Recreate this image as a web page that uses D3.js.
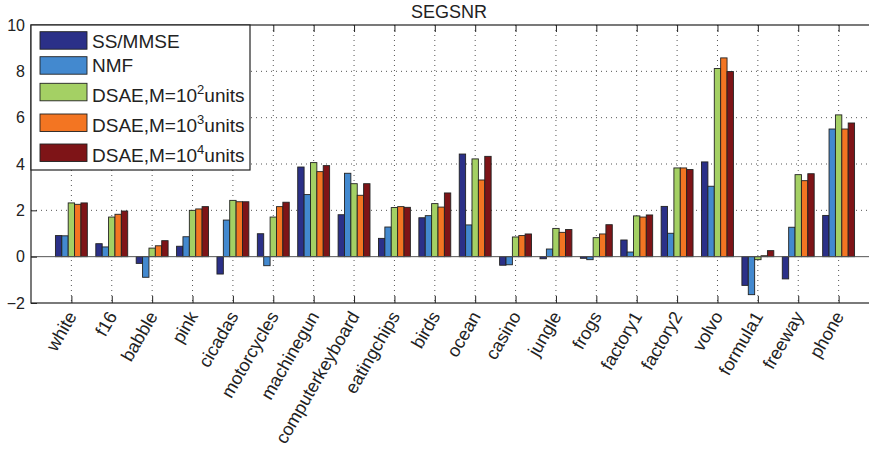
<!DOCTYPE html>
<html><head><meta charset="utf-8">
<script src="https://cdn.jsdelivr.net/npm/d3@7"></script>
<style>body{margin:0;background:#fff}svg{display:block}text{font-family:"Liberation Sans",Arial,sans-serif;fill:#222}</style>
</head><body><svg id="c" width="869" height="455"></svg>
<script>
const categories = ["white","f16","babble","pink","cicadas","motorcycles","machinegun","computerkeyboard","eatingchips","birds","ocean","casino","jungle","frogs","factory1","factory2","volvo","formula1","freeway","phone"];
const seriesNames = ["SS/MMSE","NMF","DSAE,M=10^2units","DSAE,M=10^3units","DSAE,M=10^4units"];
const ssmmse = [0.91,0.56,-0.29,0.45,-0.75,0.99,3.87,1.81,0.79,1.68,4.43,-0.37,-0.09,-0.07,0.72,2.17,4.09,-1.24,-0.96,1.78];
const nmf    = [0.90,0.42,-0.89,0.86,1.58,-0.39,2.68,3.60,1.28,1.77,1.37,-0.35,0.33,-0.13,0.20,1.01,3.04,-1.64,1.27,5.51];
const dsae2  = [2.32,1.71,0.37,2.00,2.43,1.71,4.06,3.15,2.12,2.29,4.22,0.85,1.22,0.82,1.76,3.83,8.12,-0.13,3.54,6.12];
const dsae3  = [2.26,1.83,0.47,2.06,2.37,2.16,3.67,2.65,2.16,2.14,3.31,0.91,1.05,0.98,1.71,3.83,8.58,0.04,3.28,5.51];
const dsae4  = [2.32,1.97,0.69,2.16,2.37,2.35,3.93,3.15,2.13,2.75,4.33,0.98,1.17,1.38,1.80,3.76,7.99,0.26,3.58,5.77];
const yTicks = [-2,0,2,4,6,8,10];
const colors = ["#2b3088","#4389cf","#a4d064","#f37522","#7e1417"];
const values = [ssmmse,nmf,dsae2,dsae3,dsae4];

const svg = d3.select("#c");
const L=31, R=879, T=25, B=303;
const x = d3.scaleLinear().domain([0, categories.length+1]).range([L,R]);
const y = d3.scaleLinear().domain([-2,10]).range([B,T]);
const inner = d3.scaleBand().domain(d3.range(seriesNames.length)).range([-0.395,0.395]);

// grid
const g = svg.append("g");
g.selectAll(".hg").data(yTicks.filter(t=>t>-2&&t<10&&t!==0)).join("line")
  .attr("x1",L).attr("x2",R).attr("y1",d=>y(d)).attr("y2",d=>y(d))
  .attr("stroke","#555").attr("stroke-width",1).attr("stroke-dasharray","1,4");
g.selectAll(".vg").data(categories).join("line")
  .attr("x1",(d,i)=>x(i+1)).attr("x2",(d,i)=>x(i+1)).attr("y1",T).attr("y2",B)
  .attr("stroke","#555").attr("stroke-width",1).attr("stroke-dasharray","1,4");

// bars
const bars = [];
values.forEach((arr,s)=>arr.forEach((v,i)=>bars.push({s,i,v})));
svg.append("g").selectAll("rect").data(bars).join("rect")
  .attr("x",d=>x(d.i+1+inner(d.s)))
  .attr("width",d=>x(inner.bandwidth())-x(0))
  .attr("y",d=>y(Math.max(0,d.v)))
  .attr("height",d=>Math.abs(y(d.v)-y(0)))
  .attr("fill",d=>colors[d.s]).attr("stroke","#222").attr("stroke-width",0.9);

// baseline
svg.append("line").attr("x1",L).attr("x2",R).attr("y1",y(0)).attr("y2",y(0)).attr("stroke","#555").attr("stroke-width",1);

// axes
const yAxis = d3.axisLeft(y).tickValues(yTicks).tickSize(-6).tickPadding(6).tickFormat(d=>d<0?"\u2212"+Math.abs(d):d);
const ya = svg.append("g").attr("transform",`translate(${L},0)`).call(yAxis);
ya.select(".domain").remove();
ya.selectAll("line").attr("stroke","#222");
ya.selectAll("text").style("font-size","16px").attr("fill","#222");

const xAxis = d3.axisBottom(x).tickValues(d3.range(1,categories.length+1)).tickSize(-7).tickFormat(()=>"");
const xa = svg.append("g").attr("transform",`translate(0,${B})`).call(xAxis);
xa.select(".domain").remove();
xa.selectAll("line").attr("stroke","#222");
const xt = d3.axisTop(x).tickValues(d3.range(1,categories.length+1)).tickSize(-7).tickFormat(()=>"");
const xta = svg.append("g").attr("transform",`translate(0,${T})`).call(xt);
xta.select(".domain").remove();
xta.selectAll("line").attr("stroke","#222");

svg.append("rect").attr("x",L).attr("y",T).attr("width",R-L).attr("height",B-T)
  .attr("fill","none").attr("stroke","#222").attr("stroke-width",1.2);

// x labels
svg.append("g").selectAll("text").data(categories).join("text")
  .attr("transform",(d,i)=>`translate(${x(i+1)+6},${B+13}) rotate(-60)`)
  .attr("text-anchor","end").style("font-size","18px").text(d=>d);

// title
svg.append("text").attr("x",449).attr("y",18).attr("text-anchor","middle").style("font-size","18px").text("SEGSNR");

// legend
const lg = svg.append("g");
lg.append("rect").attr("x",L).attr("y",T).attr("width",219).attr("height",145).attr("fill","#fff").attr("stroke","#222").attr("stroke-width",1.2);
const rowY = [47.5,72,101.5,131.5,161.5];
const swY = [31.7,56.7,83.3,114,144];
seriesNames.forEach((n,s)=>{
  lg.append("rect").attr("x",40).attr("y",swY[s]).attr("width",47).attr("height",17.5).attr("fill",colors[s]).attr("stroke","#222").attr("stroke-width",0.9);
  const t = lg.append("text").attr("x",92).attr("y",rowY[s]).style("font-size","19px");
  const parts = n.split("^");
  if(parts.length===1){ t.text(n); }
  else {
    t.append("tspan").text(parts[0]);
    t.append("tspan").attr("dy",-8).style("font-size","13px").text(parts[1][0]);
    t.append("tspan").attr("dy",8).text(parts[1].slice(1));
  }
});
</script></body></html>
